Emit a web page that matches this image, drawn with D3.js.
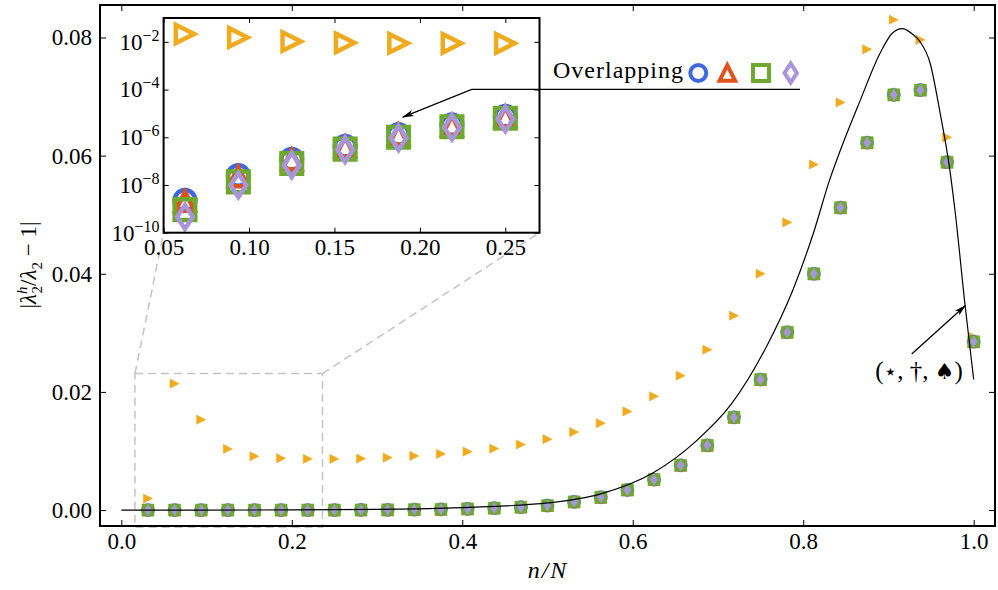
<!DOCTYPE html>
<html lang="en">
<head>
<meta charset="utf-8">
<title>Relative error of lambda_2</title>
<script src="https://cdnjs.cloudflare.com/ajax/libs/d3/7.8.5/d3.min.js"></script>
<style>
  body { margin: 0; background: #fff; }
  svg, svg text { font-family: "Liberation Serif", "Times New Roman", serif; }
</style>
</head>
<body>
<div id="chart"></div>
<script>
    // ---- data ----
    const N = 32;
    const nList = [1, 2, 3, 4, 5, 6, 7, 8, 9, 10, 11, 12, 13, 14, 15, 16,
                   17, 18, 19, 20, 21, 22, 23, 24, 25, 26, 27, 28, 29, 30, 31, 32];

    // orange right-pointing triangles
    const orangeVals = [0.00195, 0.0214, 0.0153, 0.01035, 0.0091, 0.00876, 0.00866, 0.00866,
                        0.00871, 0.00888, 0.00917, 0.00951, 0.00989, 0.0104, 0.0111, 0.0120,
                        0.0132, 0.0147, 0.0167, 0.01925, 0.02275, 0.02715, 0.0329, 0.0400,
                        0.0487, 0.0585, 0.0690, 0.0780, 0.0830, 0.0796, 0.0631, 0.0293];

    // the four "overlapping" series
    const circleVals = [1e-11, 2.3e-9, 2.5e-8, 1.2e-7, 4.2e-7, 1.3e-6, 3.3e-6, 7.5e-6,
                        2e-5, 4e-5, 8e-5, 0.00012, 0.0002, 0.00033, 0.0005, 0.00076,
                        0.00139, 0.00217, 0.00341, 0.00516, 0.00758, 0.01096, 0.0157, 0.0221,
                        0.0301, 0.0400, 0.0512, 0.0622, 0.0703, 0.0711, 0.0589, 0.0285];
    const triangleVals = [1e-11, 2.1e-9, 2.2e-8, 1.15e-7, 4.0e-7, 1.25e-6, 3.2e-6, 7.3e-6,
                          2e-5, 4e-5, 8e-5, 0.00012, 0.0002, 0.00033, 0.0005, 0.00076,
                          0.00139, 0.00217, 0.00341, 0.00516, 0.00758, 0.01096, 0.0157, 0.0221,
                          0.0301, 0.0400, 0.0512, 0.0622, 0.0703, 0.0711, 0.0589, 0.0285];
    const squareVals = [1e-11, 9.3e-10, 1.35e-8, 8e-8, 3.2e-7, 1.0e-6, 2.75e-6, 6.3e-6,
                        2e-5, 4e-5, 8e-5, 0.00012, 0.0002, 0.00033, 0.0005, 0.00076,
                        0.00139, 0.00217, 0.00341, 0.00516, 0.00758, 0.01096, 0.0157, 0.0221,
                        0.0301, 0.0400, 0.0512, 0.0622, 0.0703, 0.0711, 0.0589, 0.0285];
    const diamondVals = [1e-11, 4.6e-10, 9.8e-9, 6.8e-8, 3.0e-7, 9.3e-7, 2.6e-6, 5.8e-6,
                         2e-5, 4e-5, 8e-5, 0.00012, 0.0002, 0.00033, 0.0005, 0.00076,
                         0.00139, 0.00217, 0.00341, 0.00516, 0.00758, 0.01096, 0.0157, 0.0221,
                         0.0301, 0.0400, 0.0512, 0.0622, 0.0703, 0.0711, 0.0589, 0.0285];

    // black theory curve
    const curveX = [0, 0.1, 0.2, 0.3, 0.35, 0.4, 0.45, 0.5, 0.5616, 0.624, 0.673, 0.716,
                    0.757, 0.788, 0.812, 0.831, 0.843, 0.867, 0.89, 0.905, 0.916, 0.928,
                    0.937, 0.949, 0.96, 0.972, 0.978, 0.99, 1.0];
    const curveY = [0, 0, 0.00002, 0.0001, 0.0002, 0.0004, 0.0007, 0.0012, 0.0027, 0.0063,
                    0.0115, 0.0180, 0.0277, 0.0373, 0.0469, 0.0559, 0.0607, 0.0694, 0.0773,
                    0.0808, 0.0815, 0.0806, 0.0793, 0.0756, 0.0677, 0.0576, 0.0508, 0.0345, 0.0221];

    const xTicks = [0.0, 0.2, 0.4, 0.6, 0.8, 1.0];
    const yTicks = [0.00, 0.02, 0.04, 0.06, 0.08];
    const insetXTicks = [0.05, 0.10, 0.15, 0.20, 0.25];
    const insetYTicks = [1e-10, 1e-8, 1e-6, 1e-4, 1e-2];

    const zoomBox = {x0: 0.016, x1: 0.236, y0: -0.0029, y1: 0.0231};

    // ---- setup ----
    const W = 998, H = 590;
    const FONT = "'Liberation Serif', 'Times New Roman', serif";
    const svg = d3.select("#chart").append("svg").attr("width", W).attr("height", H)
        .attr("font-family", FONT);
    const defs = svg.append("defs");

    const x = d3.scaleLinear().domain([-0.025, 1.025]).range([100, 995]);
    const y = d3.scaleLinear().domain([-0.0027, 0.0855]).range([526, 5]);

    const ix = d3.scaleLinear().domain([0.05, 0.27]).range([163.6, 539.5]);
    const iy = d3.scaleLog().domain([1e-10, 1e-1]).range([232.7, 18]);

    const series = [
        {vals: orangeVals,   color: "#f0aa1e", shape: "right", main: 4.6, inset: 9.2},
        {vals: circleVals,   color: "#3d68e0", shape: "circle", main: 6.6, inset: 10.3},
        {vals: triangleVals, color: "#e0521a", shape: "up", main: 6, inset: 9.5},
        {vals: squareVals,   color: "#6ea82f", shape: "square", main: 6, inset: 10.3},
        {vals: diamondVals,  color: "#a895dc", shape: "diamond", main: 5.6, inset: 12}
    ];

    function shapePath(kind, s) {
        switch (kind) {
            case "circle": return `M${-s},0A${s},${s} 0 1,0 ${s},0A${s},${s} 0 1,0 ${-s},0Z`;
            case "up": return `M0,${-s}L${s},${s}L${-s},${s}Z`;
            case "right": return `M${s},0L${-s},${-s}L${-s},${s}Z`;
            case "square": return `M${-s},${-s}H${s}V${s}H${-s}Z`;
            case "diamond": return `M0,${-s}L${0.65 * s},0L0,${s}L${-0.65 * s},0Z`;
        }
    }

    defs.append("clipPath").attr("id", "mainClip").append("rect")
        .attr("x", 100).attr("y", 5).attr("width", 895).attr("height", 521);
    defs.append("clipPath").attr("id", "insetClip").append("rect")
        .attr("x", ix.range()[0]).attr("y", iy.range()[1])
        .attr("width", ix.range()[1] - ix.range()[0]).attr("height", iy.range()[0] - iy.range()[1]);

    defs.append("marker").attr("id", "arrow").attr("viewBox", "0 -5 12 10")
        .attr("refX", 11).attr("refY", 0).attr("markerWidth", 12).attr("markerHeight", 10)
        .attr("markerUnits", "userSpaceOnUse").attr("orient", "auto")
        .append("path").attr("d", "M0,-3.2L12,0L0,3.2L3,0Z").attr("fill", "#000");

    // ---- zoom box and connectors ----
    const gray = "#c4c4c4";
    svg.append("rect")
        .attr("x", x(zoomBox.x0)).attr("y", y(zoomBox.y1))
        .attr("width", x(zoomBox.x1) - x(zoomBox.x0)).attr("height", y(zoomBox.y0) - y(zoomBox.y1))
        .attr("fill", "none").attr("stroke", gray).attr("stroke-width", 1.5).attr("stroke-dasharray", "8,5");
    svg.append("line")
        .attr("x1", x(zoomBox.x0)).attr("y1", y(zoomBox.y1))
        .attr("x2", ix.range()[0]).attr("y2", iy.range()[0])
        .attr("stroke", gray).attr("stroke-width", 1.5).attr("stroke-dasharray", "8,5");
    svg.append("line")
        .attr("x1", x(zoomBox.x1)).attr("y1", y(zoomBox.y1))
        .attr("x2", ix.range()[1]).attr("y2", iy.range()[0])
        .attr("stroke", gray).attr("stroke-width", 1.5).attr("stroke-dasharray", "8,5");

    // ---- main markers ----
    const mainG = svg.append("g").attr("clip-path", "url(#mainClip)");
    series.forEach(function (s) {
        mainG.append("g").selectAll("path").data(s.vals).join("path")
            .attr("transform", (d, i) => `translate(${x(nList[i] / N)},${y(d)})`)
            .attr("d", shapePath(s.shape, s.main))
            .attr("fill", s.color).attr("stroke", s.color).attr("stroke-width", 0.5);
    });

    const line = d3.line().x(d => x(d[0])).y(d => y(d[1])).curve(d3.curveMonotoneX);
    mainG.append("path").datum(curveX.map((v, i) => [v, curveY[i]]))
        .attr("d", line).attr("fill", "none").attr("stroke", "#000").attr("stroke-width", 1.2);

    // ---- main axes ----
    function styleAxis(g, size) {
        g.attr("font-family", FONT).attr("font-size", size);
        g.select(".domain").remove();
        g.selectAll(".tick line").attr("stroke", "#000").attr("stroke-width", 1);
        g.selectAll(".tick text").attr("fill", "#000")
            .attr("font-family", FONT).attr("font-size", size);
    }
    svg.append("g").attr("transform", "translate(0,526)")
        .call(d3.axisBottom(x).tickValues(xTicks).tickFormat(d3.format(".1f")).tickSize(-6).tickPadding(7))
        .call(g => styleAxis(g, 23));
    svg.append("g").attr("transform", "translate(0,5)")
        .call(d3.axisTop(x).tickValues(xTicks).tickFormat("").tickSize(-6))
        .call(g => styleAxis(g, 23));
    svg.append("g").attr("transform", "translate(100,0)")
        .call(d3.axisLeft(y).tickValues(yTicks).tickFormat(d3.format(".2f")).tickSize(-6).tickPadding(8))
        .call(g => styleAxis(g, 23));
    svg.append("g").attr("transform", "translate(995,0)")
        .call(d3.axisRight(y).tickValues(yTicks).tickFormat("").tickSize(-6))
        .call(g => styleAxis(g, 23));
    svg.append("rect").attr("x", 100).attr("y", 5).attr("width", 895).attr("height", 521)
        .attr("fill", "none").attr("stroke", "#000").attr("stroke-width", 2);

    // axis labels
    svg.append("text").attr("x", 548).attr("y", 578).attr("text-anchor", "middle")
        .attr("font-size", 24).attr("font-style", "italic").attr("letter-spacing", 2)
        .text("n/N");

    const yl = svg.append("text").attr("transform", "translate(36,265) rotate(-90)")
        .attr("text-anchor", "middle").attr("font-size", 23);
    yl.append("tspan").text("|");
    yl.append("tspan").attr("font-style", "italic").text("λ");
    yl.append("tspan").attr("dy", -9).attr("font-size", 15).attr("font-style", "italic").text("h");
    yl.append("tspan").attr("dx", -7).attr("dy", 15).attr("font-size", 15).text("2");
    yl.append("tspan").attr("dy", -6).text("/");
    yl.append("tspan").attr("font-style", "italic").text("λ");
    yl.append("tspan").attr("dy", 6).attr("font-size", 15).text("2");
    yl.append("tspan").attr("dy", -6).text(" − 1|");

    // ---- inset ----
    const inset = svg.append("g");
    inset.append("rect").attr("x", ix.range()[0]).attr("y", iy.range()[1])
        .attr("width", ix.range()[1] - ix.range()[0]).attr("height", iy.range()[0] - iy.range()[1])
        .attr("fill", "#fff");

    const insetPts = inset.append("g").attr("clip-path", "url(#insetClip)");
    series.forEach(function (s) {
        const pts = s.vals.map((v, i) => [nList[i] / N, v])
            .filter(d => d[0] >= 0.05 && d[0] <= 0.27);
        insetPts.append("g").selectAll("path").data(pts).join("path")
            .attr("transform", d => `translate(${ix(d[0])},${iy(d[1])})`)
            .attr("d", shapePath(s.shape, s.inset))
            .attr("fill", "none").attr("stroke", s.color).attr("stroke-width", 4.5)
            .attr("stroke-linejoin", "miter");
    });

    const ib = iy.range()[0], it = iy.range()[1], il = ix.range()[0], ir = ix.range()[1];
    inset.append("g").attr("transform", `translate(0,${ib})`)
        .call(d3.axisBottom(ix).tickValues(insetXTicks).tickFormat(d3.format(".2f")).tickSize(-5).tickPadding(6))
        .call(g => styleAxis(g, 23));
    inset.append("g").attr("transform", `translate(0,${it})`)
        .call(d3.axisTop(ix).tickValues(insetXTicks).tickFormat("").tickSize(-5))
        .call(g => styleAxis(g, 23));
    const leftAx = inset.append("g").attr("transform", `translate(${il},0)`)
        .call(d3.axisLeft(iy).tickValues(insetYTicks).tickFormat("").tickSize(-5).tickPadding(4))
        .call(g => styleAxis(g, 23));
    inset.append("g").attr("transform", `translate(${ir},0)`)
        .call(d3.axisRight(iy).tickValues(insetYTicks).tickFormat("").tickSize(-5))
        .call(g => styleAxis(g, 23));
    leftAx.selectAll(".tick").each(function (d) {
        const t = d3.select(this).append("text").attr("x", -4).attr("dy", "0.32em")
            .attr("text-anchor", "end").attr("fill", "#000")
            .attr("font-size", 23).attr("font-family", FONT);
        t.append("tspan").text("10");
        t.append("tspan").attr("dy", -9).attr("font-size", 16)
            .text("−" + Math.round(-Math.log10(d)));
    });
    inset.append("rect").attr("x", il).attr("y", it).attr("width", ir - il).attr("height", ib - it)
        .attr("fill", "none").attr("stroke", "#000").attr("stroke-width", 2);

    // ---- "Overlapping" annotation ----
    const head = [ix(0.19), iy(7e-6)];
    svg.append("path")
        .attr("d", `M800,89.3L471.7,89.3L${head[0]},${head[1]}`)
        .attr("fill", "none").attr("stroke", "#000").attr("stroke-width", 1.3)
        .attr("marker-end", "url(#arrow)");
    svg.append("text").attr("x", 553).attr("y", 78).attr("font-size", 24)
        .attr("letter-spacing", 1).text("Overlapping");
    const legendShapes = [
        {shape: "circle", color: "#3d68e0", cx: 698.3, s: 8},
        {shape: "up", color: "#e0521a", cx: 727.3, s: 7.8},
        {shape: "square", color: "#6ea82f", cx: 761, s: 8},
        {shape: "diamond", color: "#a895dc", cx: 790.7, s: 9.5}
    ];
    svg.append("g").selectAll("path").data(legendShapes).join("path")
        .attr("transform", d => `translate(${d.cx},73)`)
        .attr("d", d => shapePath(d.shape, d.s))
        .attr("fill", "none").attr("stroke", d => d.color).attr("stroke-width", 4)
        .attr("stroke-linejoin", "miter");

    // ---- theory annotation ----
    svg.append("line")
        .attr("x1", 911.7).attr("y1", 354).attr("x2", x(0.99)).attr("y2", y(0.0346))
        .attr("stroke", "#000").attr("stroke-width", 1.3).attr("marker-end", "url(#arrow)");
    const ann = svg.append("text").attr("x", 919).attr("y", 379).attr("text-anchor", "middle")
        .attr("font-size", 25);
    ann.append("tspan").text("(");
    ann.append("tspan").attr("font-family", "DejaVu Sans").attr("font-size", 22).text("⋆");
    ann.append("tspan").text(", †, ");
    ann.append("tspan").attr("font-family", "DejaVu Sans").attr("font-size", 22).text("♠");
    ann.append("tspan").text(")");
</script>
</body>
</html>
